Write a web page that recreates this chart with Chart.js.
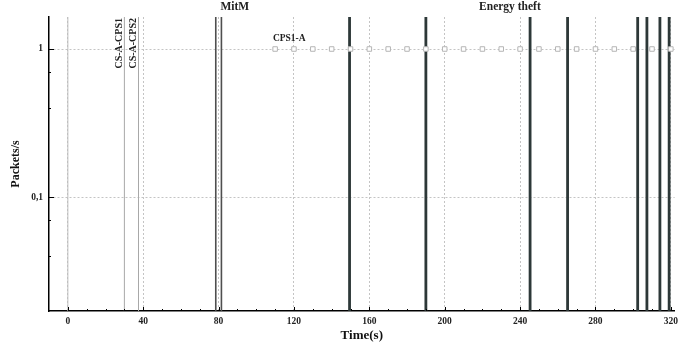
<!DOCTYPE html>
<html><head><meta charset="utf-8">
<script src="https://cdn.jsdelivr.net/npm/chart.js@4.4.0/dist/chart.umd.min.js"></script>
<style>html,body{margin:0;padding:0;background:#fff}canvas{display:block}</style>
</head><body>
<canvas id="c" width="683" height="349"></canvas>
<script>
// ---- data ----
const Y_MIN = 0.017, Y_MAX = 1.645;
const X_MIN = -10, X_MAX = 322;
const xTickValues = [0, 40, 80, 120, 160, 200, 240, 280, 320];
const xMinorTicks = [10,20,30,50,60,70,90,100,110,130,140,150,170,180,190,210,220,230,250,260,270,290,300,310];
const yTickValues = [0.1, 1];
const yTickLabels = ['0,1', '1'];
const yMinorTicks = [0.04, 0.07, 0.4, 0.7];
const baselineTimes = [0];
const csTimes = [30, 37.5];
const csLabels = ['CS-A-CPS1', 'CS-A-CPS2'];
const mitmTimes = [78.5, 81.5];
const energyTheftTimes = [149.5, 190, 245.3, 265.2, 302.4, 307.3, 314.2, 319.1];
const cps1aTimes = [110,120,130,140,150,160,170,180,190,200,210,220,230,240,250,260,270,280,290,300,310,320];
const cps1aRate = cps1aTimes.map(() => 1);
const groupLabels = [{text:'MitM', x:88.6}, {text:'Energy theft', x:234.6}];
const seriesLabel = {text:'CPS1-A', x:117.5, y:1.17};

// ---- datasets ----
function vline(x, color, width) {
  return { data:[{x:x,y:Y_MIN},{x:x,y:Y_MAX}], showLine:true, borderColor:color,
           borderWidth:width, pointRadius:0, pointHoverRadius:0, fill:false };
}
const datasets = [];
baselineTimes.forEach(t => datasets.push(vline(t, '#bdbdbd', 1)));
csTimes.forEach(t => datasets.push(vline(t, '#a8a8a8', 1)));
datasets.push({ data: cps1aTimes.map((t,i)=>({x:t,y:cps1aRate[i]})), showLine:false,
  pointStyle:'rect', rotation:0, pointRadius:3.2, borderColor:'#b5b5b5', backgroundColor:'#ffffff', borderWidth:1 });
mitmTimes.forEach(t => datasets.push(vline(t, '#4f4f4f', 1.6)));
energyTheftTimes.forEach(t => datasets.push(vline(t, '#2d3838', 2.8)));

const serif = 'Liberation Serif, Times New Roman, serif';

const decor = {
  id:'decor',
  afterDraw(chart) {
    const ctx = chart.ctx, xs = chart.scales.x, ys = chart.scales.y, a = chart.chartArea;
    ctx.save();
    ctx.strokeStyle = '#000'; ctx.lineWidth = 1;
    ctx.beginPath();
    xTickValues.forEach(v => { const p = Math.round(xs.getPixelForValue(v))+0.5; ctx.moveTo(p, a.bottom); ctx.lineTo(p, a.bottom-4); });
    xMinorTicks.forEach(v => { const p = Math.round(xs.getPixelForValue(v))+0.5; ctx.moveTo(p, a.bottom); ctx.lineTo(p, a.bottom-2); });
    yTickValues.forEach(v => { const p = Math.round(ys.getPixelForValue(v))+0.5; ctx.moveTo(a.left, p); ctx.lineTo(a.left+5, p); });
    yMinorTicks.forEach(v => { const p = Math.round(ys.getPixelForValue(v))+0.5; ctx.moveTo(a.left, p); ctx.lineTo(a.left+2, p); });
    ctx.stroke();
    ctx.fillStyle = '#222';
    ctx.font = 'bold 11.5px ' + serif;
    ctx.textAlign = 'center'; ctx.textBaseline = 'middle';
    groupLabels.forEach(g => ctx.fillText(g.text, xs.getPixelForValue(g.x), a.top - 10));
    ctx.font = 'bold 9.5px ' + serif;
    ctx.fillText(seriesLabel.text, xs.getPixelForValue(seriesLabel.x), ys.getPixelForValue(seriesLabel.y));
    ctx.font = 'bold 10px ' + serif;
    csTimes.forEach((t,i) => {
      ctx.save();
      ctx.translate(xs.getPixelForValue(t) - 5, a.top + 1);
      ctx.rotate(-Math.PI/2);
      ctx.textAlign = 'right'; ctx.textBaseline = 'middle';
      ctx.fillText(csLabels[i], 0, 0);
      ctx.restore();
    });
    ctx.restore();
  }
};

new Chart(document.getElementById('c'), {
  type:'scatter',
  data:{ datasets },
  plugins:[decor],
  options:{
    responsive:false, animation:false, devicePixelRatio:1,
    layout:{ padding:{ top:17, right:4, left:0, bottom:6 } },
    plugins:{ legend:{display:false}, tooltip:{enabled:false} },
    scales:{
      x:{
        type:'linear', min:X_MIN, max:X_MAX,
        afterBuildTicks: s => { s.ticks = xTickValues.map(v=>({value:v})); },
        afterFit: s => { s.height = 32; },
        grid:{ color:'#c4c4c4', lineWidth:1, drawTicks:false },
        border:{ color:'#000', width:1.5, dash:[2,2] },
        ticks:{ padding:5, color:'#222', font:{family:serif, weight:'bold', size:9.5}, maxRotation:0 },
        title:{ display:true, text:'Time(s)', color:'#111', font:{family:serif, weight:'bold', size:13}, padding:{top:0,bottom:0} }
      },
      y:{
        type:'logarithmic', min:Y_MIN, max:Y_MAX,
        afterBuildTicks: s => { s.ticks = yTickValues.map(v=>({value:v})); },
        afterFit: s => { s.width = 49; },
        grid:{ color:'#c4c4c4', lineWidth:1, drawTicks:false },
        border:{ color:'#000', width:1.5, dash:[2,2] },
        ticks:{ padding:6, color:'#222', font:{family:serif, weight:'bold', size:9.5},
                callback: v => { const i = yTickValues.indexOf(v); return i>=0 ? yTickLabels[i] : ''; } },
        title:{ display:true, text:'Packets/s', color:'#111', font:{family:serif, weight:'bold', size:12}, padding:{top:9,bottom:0} }
      }
    }
  }
});
</script>
</body></html>
